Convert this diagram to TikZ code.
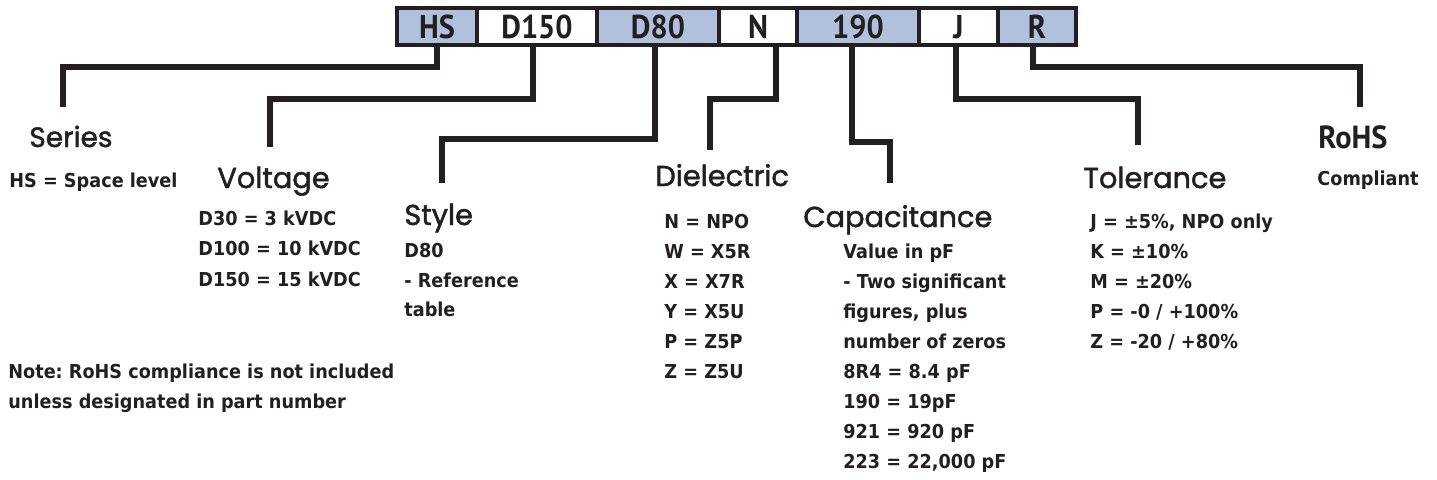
\documentclass[tikz,border=0pt]{standalone}
\usepackage{fontspec}
\setmainfont{DejaVu Sans}
\newfontfamily\headfont[FakeBold=1.6]{Poppins}
\newfontfamily\bodyfont[FakeStretch=0.92]{DejaVu Sans}
\newfontfamily\boxfont[FakeStretch=0.92]{PT Sans}
\newfontfamily\rohsfont[FakeStretch=0.95]{PT Sans}
\definecolor{ink}{HTML}{231F20}
\definecolor{cellblue}{RGB}{176,192,221}
\frenchspacing
\begin{document}
\begin{tikzpicture}[x=0.5pt,y=-0.5pt,
  cell/.style={draw=ink, line width=1.6pt, minimum height=18.5pt, inner sep=0pt,
    text height=11.5pt, text depth=0pt, text=ink,
    font=\boxfont\bfseries\fontsize{16.5}{16.5}\selectfont},
  bluecell/.style={cell, fill=cellblue},
  whitecell/.style={cell, fill=white},
  conn/.style={draw=ink, line width=3pt, line join=miter},
  head/.style={anchor=base west, inner sep=0pt, text=ink, font=\headfont\fontsize{14.4}{14.4}\selectfont},
  smallhead/.style={anchor=base west, inner sep=0pt, text=ink, font=\headfont\fontsize{14}{14}\selectfont},
  rohshead/.style={anchor=base west, inner sep=0pt, text=ink, font=\rohsfont\bfseries\fontsize{16}{16}\selectfont},
  body/.style={anchor=base west, inner sep=0pt, text=ink, font=\bodyfont\bfseries\fontsize{9.6}{9.6}\selectfont}]
\fill[white] (0,0) rectangle (1437,479);
\useasboundingbox (0,0) rectangle (1437,479);

% end points of connectors
\coordinate (eSeries) at (63,107);
\coordinate (eVolt) at (270,147);
\coordinate (eStyle) at (442,183);
\coordinate (eDiel) at (710,150);
\coordinate (eCap) at (890,183);
\coordinate (eTol) at (1138,145);
\coordinate (eRoHS) at (1360,107);

% part number cells
\node[bluecell, minimum width=40pt] (hs) at (437,26.5) {HS};
\node[whitecell, minimum width=60pt] (d150) at (537,26.5) {D150};
\node[bluecell, minimum width=61pt] (d80) at (658,26.5) {D80};
\node[whitecell, minimum width=39pt] (n) at (758,26.5) {N};
\node[bluecell, minimum width=61pt] (c190) at (858,26.5) {190};
\node[whitecell, minimum width=39.5pt] (j) at (958.5,26.5) {J};
\node[bluecell, minimum width=39pt] (r) at (1037,26.5) {R};

% connectors
\draw[conn] (hs.south) -- ++(0,20) -| (eSeries);
\draw[conn] ([shift={(-4,0)}]d150.south) -- ++(0,52) -| (eVolt);
\draw[conn] ([shift={(-3,0)}]d80.south) -- ++(0,92) -| (eStyle);
\draw[conn] ([shift={(18,0)}]n.south) -- ++(0,52) -| (eDiel);
\draw[conn] ([shift={(-6,0)}]c190.south) -- ++(0,95) -| (eCap);
\draw[conn] ([shift={(-3,0)}]j.south) -- ++(0,52) -| (eTol);
\draw[conn] ([shift={(-4,0)}]r.south) -- ++(0,20) -| (eRoHS);

% Series
\node[smallhead] (series) at (29,147) {Series};
\node[body] (series1) at (9,187) {HS = Space level};

% Voltage
\node[head] (volt) at (217,188) {Voltage};
\node[body] (volt1) at (198,225) {D30 = 3 kVDC};
\node[body] (volt2) at (198,255) {D100 = 10 kVDC};
\node[body] (volt3) at (198,286) {D150 = 15 kVDC};

% Style
\node[head] (style) at (404,225) {Style};
\node[body] (style1) at (404,257) {D80};
\node[body] (style2) at (404,287) {- Reference};
\node[body] (style3) at (404,316) {table};

% Dielectric
\node[head] (diel) at (655,186) {Dielectric};
\node[body] (diel1) at (664,228) {N = NPO};
\node[body] (diel2) at (664,258) {W = X5R};
\node[body] (diel3) at (664,288) {X = X7R};
\node[body] (diel4) at (664,318) {Y = X5U};
\node[body] (diel5) at (664,348) {P = Z5P};
\node[body] (diel6) at (664,378) {Z = Z5U};

% Capacitance
\node[head] (cap) at (803,227) {Capacitance};
\node[body] (cap1) at (843,258) {Value in pF};
\node[body] (cap2) at (843,288) {- Two significant};
\node[body] (cap3) at (843,318) {figures, plus};
\node[body] (cap4) at (843,348) {number of zeros};
\node[body] (cap5) at (843,378) {8R4 = 8.4 pF};
\node[body] (cap6) at (843,408) {190 = 19pF};
\node[body] (cap7) at (843,438) {921 = 920 pF};
\node[body] (cap8) at (843,468) {223 = 22,000 pF};

% Tolerance
\node[head] (tol) at (1083,188) {Tolerance};
\node[body] (tol1) at (1090,228) {J = ±5\%, NPO only};
\node[body] (tol2) at (1090,258) {K = ±10\%};
\node[body] (tol3) at (1090,288) {M = ±20\%};
\node[body] (tol4) at (1090,318) {P = -0 / +100\%};
\node[body] (tol5) at (1090,348) {Z = -20 / +80\%};

% RoHS
\node[rohshead] (rohs) at (1318,148) {RoHS};
\node[body] (rohs1) at (1317,185) {Compliant};

% Note
\node[body] (note1) at (8,378) {Note: RoHS compliance is not included};
\node[body] (note2) at (8,408) {unless designated in part number};
\end{tikzpicture}
\end{document}
